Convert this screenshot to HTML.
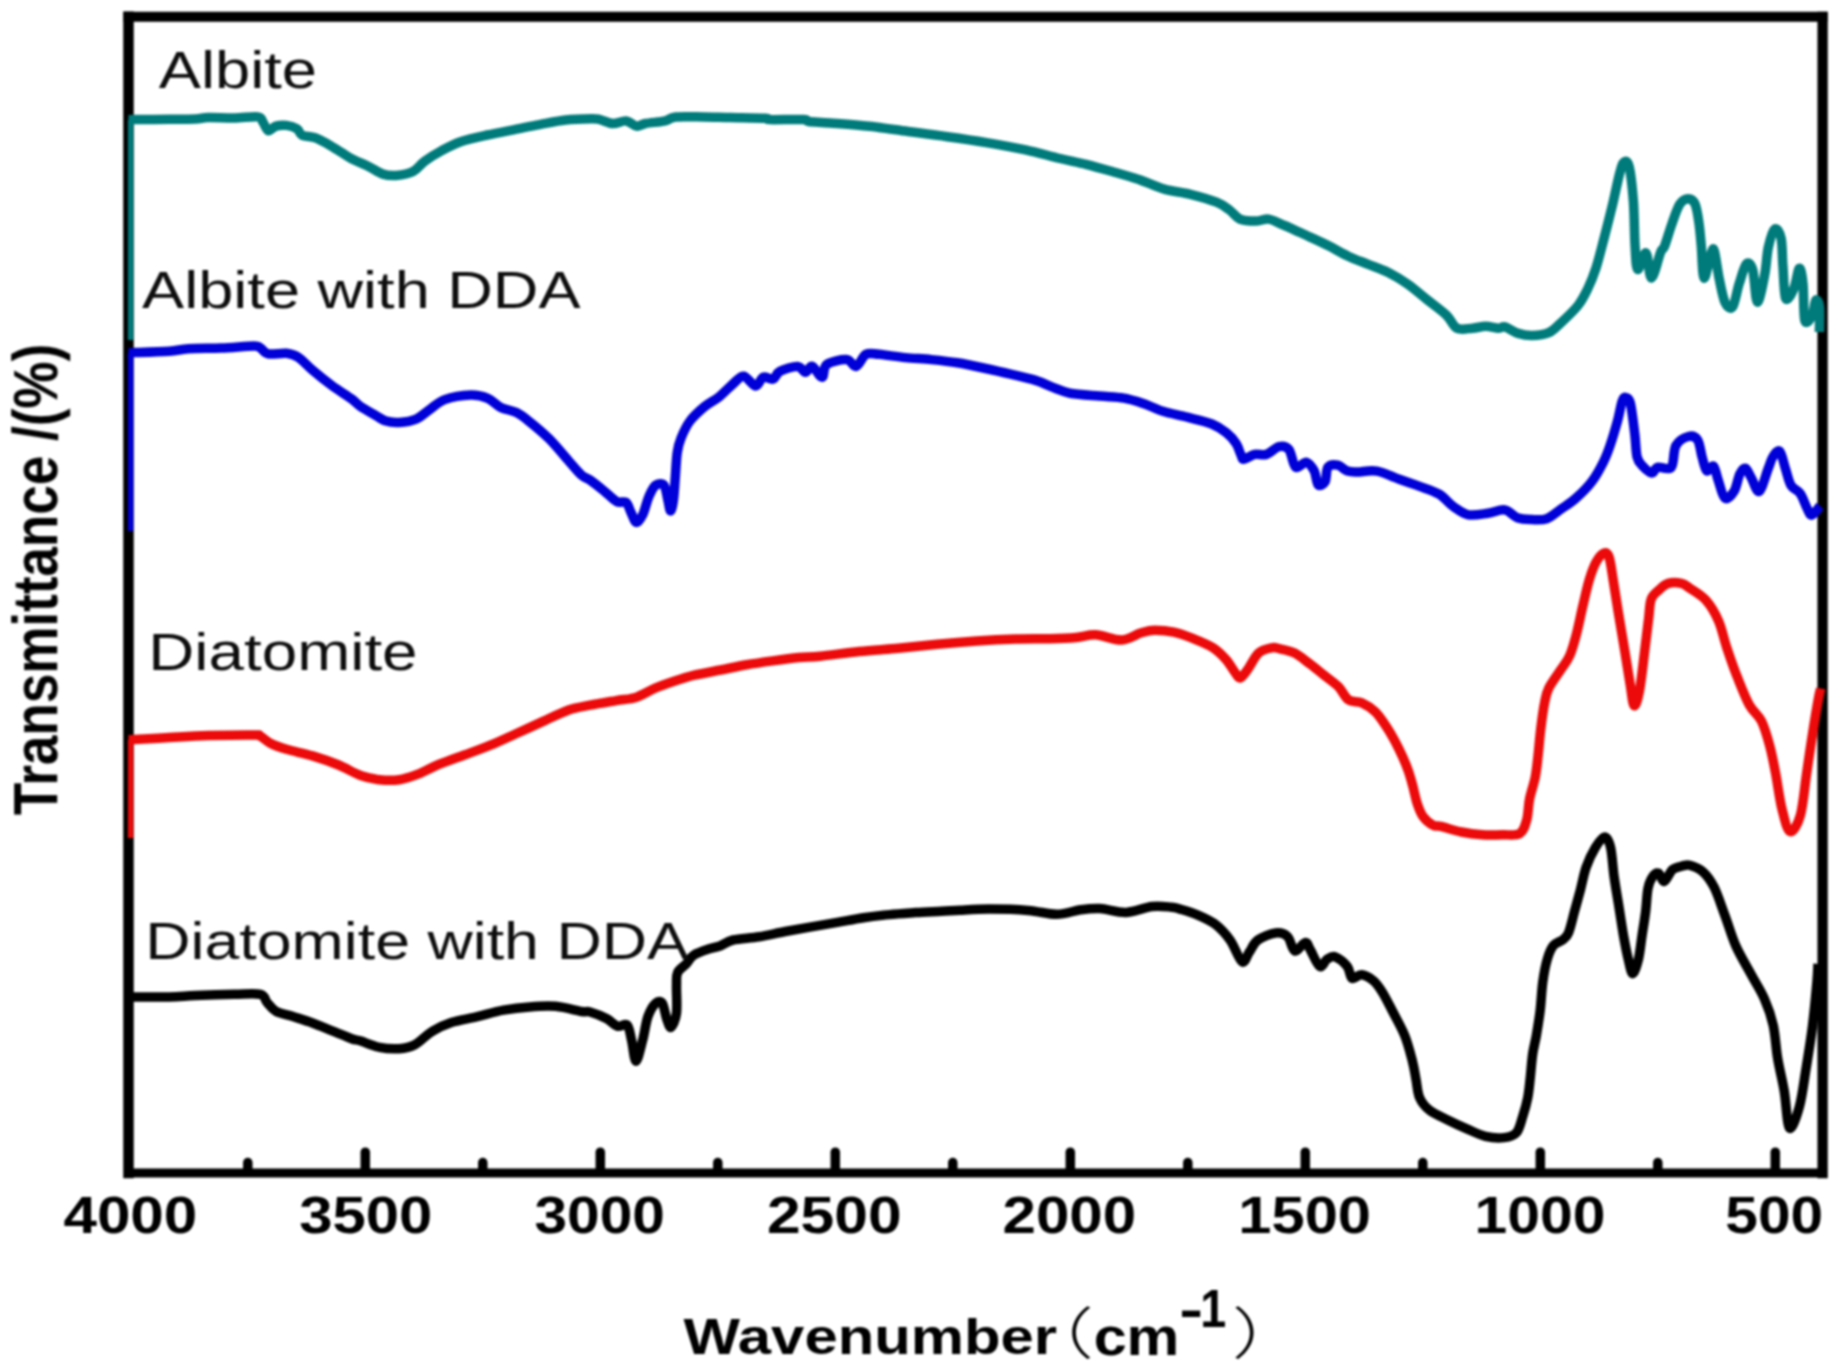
<!DOCTYPE html>
<html><head><meta charset="utf-8"><style>
html,body{margin:0;padding:0;background:#fff;}
body{width:1841px;height:1370px;overflow:hidden;}
svg{display:block;}
</style></head><body>
<svg width="1841" height="1370" viewBox="0 0 1841 1370">
<defs><filter id="soft" filterUnits="userSpaceOnUse" x="0" y="0" width="1841" height="1370" color-interpolation-filters="sRGB"><feGaussianBlur stdDeviation="1.0"/></filter></defs>
<rect width="1841" height="1370" fill="#fff"/>
<g filter="url(#soft)">
<g stroke="#000" fill="none" stroke-linecap="square">
<path d="M128.5,16.8H1822.6" stroke-width="10"/>
<path d="M128.5,16.8V1173" stroke-width="10.5"/>
<path d="M1822.6,16.8V1173" stroke-width="10.3"/>
<path d="M128.5,1173H1822.6" stroke-width="9"/>
</g>
<g stroke="#000" stroke-width="9.5" stroke-linecap="round">
<line x1="247.8" y1="1172" x2="247.8" y2="1162.5" /><line x1="365.3" y1="1172" x2="365.3" y2="1152.2" /><line x1="482.8" y1="1172" x2="482.8" y2="1162.5" /><line x1="600.3" y1="1172" x2="600.3" y2="1152.2" /><line x1="717.8" y1="1172" x2="717.8" y2="1162.5" /><line x1="835.3" y1="1172" x2="835.3" y2="1152.2" /><line x1="952.8" y1="1172" x2="952.8" y2="1162.5" /><line x1="1070.3" y1="1172" x2="1070.3" y2="1152.2" /><line x1="1187.8" y1="1172" x2="1187.8" y2="1162.5" /><line x1="1305.3" y1="1172" x2="1305.3" y2="1152.2" /><line x1="1422.8" y1="1172" x2="1422.8" y2="1162.5" /><line x1="1540.3" y1="1172" x2="1540.3" y2="1152.2" /><line x1="1657.8" y1="1172" x2="1657.8" y2="1162.5" /><line x1="1775.3" y1="1172" x2="1775.3" y2="1152.2" />
</g>
<g fill="none" stroke-width="9.5" stroke-linejoin="round" stroke-linecap="butt">
<path stroke="#007b7b" stroke-width="5.5" d="M130.6,340.0V119.7"/><path stroke="#007b7b" d="M128.5,119.7C129.4,119.7 127.1,119.7 133.9,119.6C140.7,119.5 158.9,119.4 169.1,119.3C179.3,119.2 188.7,119.2 195.2,118.9C201.7,118.6 201.7,117.8 208.2,117.6C214.7,117.4 226.0,118.1 234.3,118.0C242.6,117.9 253.0,116.2 257.8,116.9C262.6,117.6 261.3,119.9 263.0,122.2C264.7,124.5 266.0,129.9 268.2,130.6C270.4,131.2 272.9,127.0 276.0,126.1C279.1,125.2 283.0,125.0 286.5,125.4C290.0,125.8 294.3,127.1 296.9,128.7C299.5,130.3 299.1,133.7 302.1,135.2C305.1,136.7 310.8,136.3 315.1,137.8C319.5,139.3 323.9,141.9 328.2,144.3C332.5,146.7 337.3,149.8 341.2,152.2C345.1,154.6 346.8,156.2 351.6,158.7C356.4,161.2 364.8,164.6 370.0,167.2C375.2,169.8 378.6,172.7 383.0,174.1C387.4,175.5 391.1,175.8 396.1,175.4C401.1,175.0 408.2,173.9 413.0,171.5C417.8,169.1 420.0,164.6 424.8,161.1C429.6,157.6 435.6,153.9 441.7,150.6C447.8,147.3 453.7,144.1 461.3,141.5C468.9,138.9 478.6,136.9 487.3,135.0C496.0,133.1 504.7,131.5 513.4,129.8C522.1,128.1 530.8,126.2 539.5,124.6C548.2,123.0 556.9,121.0 565.6,120.0C574.3,119.0 585.9,118.8 591.6,118.7C597.3,118.6 596.4,118.8 600.0,119.6C603.6,120.4 608.7,123.3 613.0,123.5C617.3,123.7 622.1,120.5 626.0,120.9C629.9,121.3 633.2,125.7 636.5,126.1C639.8,126.5 640.8,124.4 645.6,123.5C650.4,122.6 660.2,122.0 665.2,120.9C670.2,119.8 669.1,117.7 675.6,117.0C682.1,116.3 695.2,116.9 704.3,117.0C713.4,117.1 720.2,117.4 730.4,117.6C740.6,117.8 759.1,118.0 765.6,118.3C772.1,118.6 763.2,119.4 769.5,119.6C775.8,119.8 796.9,119.3 803.4,119.6C809.9,119.9 804.2,120.9 808.6,121.5C813.0,122.1 819.9,122.2 830.0,123.0C840.1,123.8 856.1,124.9 869.1,126.3C882.1,127.7 895.2,129.8 908.2,131.5C921.2,133.2 934.2,134.8 947.3,136.7C960.3,138.5 973.5,140.4 986.5,142.6C999.5,144.8 1013.3,147.2 1025.6,149.8C1037.8,152.5 1049.9,156.1 1060.0,158.5C1070.1,160.9 1077.4,162.1 1086.1,164.3C1094.8,166.5 1103.5,169.0 1112.2,171.5C1120.9,174.0 1129.5,176.4 1138.2,179.3C1146.9,182.2 1155.6,186.6 1164.3,189.1C1173.0,191.6 1181.7,192.1 1190.4,194.3C1199.1,196.5 1210.0,199.6 1216.5,202.2C1223.0,204.8 1225.6,207.2 1229.5,210.0C1233.4,212.8 1235.6,217.2 1239.9,219.1C1244.2,220.9 1250.8,221.1 1255.6,221.1C1260.4,221.1 1264.3,218.6 1268.6,219.1C1272.9,219.6 1278.0,222.9 1281.6,224.3C1285.2,225.8 1285.3,225.7 1290.0,227.8C1294.7,229.9 1303.1,233.9 1309.6,236.9C1316.1,239.9 1322.6,242.8 1329.1,246.1C1335.6,249.4 1342.2,253.5 1348.7,256.5C1355.2,259.5 1361.7,261.7 1368.2,264.3C1374.7,266.9 1381.3,268.9 1387.8,272.2C1394.3,275.5 1400.8,279.3 1407.3,283.9C1413.8,288.4 1420.4,294.3 1426.9,299.5C1433.4,304.7 1441.5,310.4 1446.5,315.2C1451.5,320.0 1452.6,326.0 1456.9,328.2C1461.2,330.4 1467.7,328.5 1472.5,328.2C1477.3,327.9 1481.2,326.3 1485.6,326.3C1489.9,326.3 1495.3,328.1 1498.6,328.2C1501.8,328.3 1501.8,326.0 1505.1,326.9C1508.4,327.8 1513.7,332.0 1518.2,333.4C1522.7,334.8 1527.0,335.6 1532.1,335.5C1537.2,335.4 1544.2,334.7 1548.8,332.7C1553.4,330.7 1555.1,328.2 1559.9,323.7C1564.8,319.2 1573.3,311.4 1577.9,305.6C1582.5,299.8 1584.6,295.2 1587.6,289.0C1590.6,282.8 1593.1,276.8 1595.9,268.2C1598.7,259.6 1601.4,248.3 1604.2,237.7C1607.0,227.1 1610.0,215.0 1612.6,204.4C1615.1,193.8 1617.6,181.0 1619.5,173.9C1621.4,166.8 1622.4,163.2 1624.0,162.0C1625.6,160.8 1627.6,160.3 1629.2,166.9C1630.8,173.5 1632.4,188.6 1633.4,201.6C1634.4,214.6 1634.3,233.7 1635.0,245.0C1635.7,256.3 1635.9,268.0 1637.7,269.3C1639.5,270.6 1643.7,251.6 1646.0,253.0C1648.3,254.4 1649.0,278.2 1651.5,278.0C1654.0,277.8 1658.5,257.3 1660.7,252.0C1662.9,246.7 1662.6,251.1 1664.5,246.3C1666.4,241.5 1669.5,230.3 1672.1,223.3C1674.6,216.3 1677.1,208.3 1679.8,204.2C1682.5,200.1 1685.7,198.8 1688.2,198.8C1690.8,198.8 1693.3,200.1 1695.1,204.2C1696.9,208.3 1698.0,216.3 1699.0,223.3C1700.0,230.3 1700.5,237.2 1701.3,246.3C1702.1,255.4 1702.4,276.7 1704.0,278.0C1705.6,279.3 1709.3,258.5 1711.0,254.0C1712.7,249.5 1712.9,246.8 1714.3,251.0C1715.7,255.2 1717.5,270.7 1719.3,279.3C1721.1,287.9 1722.9,298.0 1725.1,302.6C1727.3,307.2 1730.4,309.8 1732.7,306.7C1735.0,303.6 1736.8,291.0 1739.1,283.9C1741.4,276.8 1744.1,266.1 1746.4,263.8C1748.7,261.5 1751.0,263.8 1752.8,270.2C1754.6,276.6 1755.4,301.4 1757.4,302.1C1759.4,302.9 1762.9,283.8 1764.7,274.7C1766.5,265.6 1766.6,255.0 1768.3,247.4C1770.0,239.8 1772.6,230.6 1774.7,229.1C1776.8,227.6 1779.7,232.1 1781.1,238.2C1782.5,244.3 1782.1,255.6 1782.9,265.6C1783.7,275.7 1783.9,294.7 1785.7,298.5C1787.5,302.3 1791.6,293.4 1793.9,288.4C1796.2,283.4 1797.8,269.1 1799.3,268.4C1800.8,267.6 1802.1,275.2 1803.0,283.9C1803.9,292.6 1803.3,315.1 1804.8,320.4C1806.3,325.7 1810.3,319.1 1812.1,315.8C1813.9,312.5 1814.6,301.8 1815.8,300.3C1817.0,298.8 1818.8,301.4 1819.4,306.7C1820.0,312.0 1819.4,327.8 1819.4,332.0"/>
<path stroke="#0000d8" stroke-width="5.5" d="M130.6,531.0V352.4"/><path stroke="#0000d8" d="M128.5,352.4C129.4,352.4 127.1,352.8 133.9,352.6C140.7,352.4 160.0,352.0 169.1,351.3C178.2,350.6 180.0,349.2 188.7,348.7C197.4,348.1 210.4,348.4 221.3,348.0C232.2,347.6 247.4,346.1 253.9,346.1C260.4,346.1 258.0,346.7 260.4,348.0C262.8,349.3 263.8,353.0 268.2,353.9C272.6,354.8 281.5,352.8 286.5,353.3C291.5,353.9 293.9,354.4 298.2,357.2C302.5,360.0 306.9,365.4 312.5,370.2C318.1,375.0 325.6,381.0 332.1,385.8C338.6,390.6 347.0,395.5 351.6,398.9C356.2,402.3 356.4,403.6 360.0,406.1C363.6,408.6 368.6,411.4 373.0,413.9C377.4,416.4 381.8,419.7 386.1,421.1C390.5,422.5 394.1,422.7 399.1,422.4C404.1,422.1 411.1,421.2 416.1,419.1C421.1,417.0 424.3,413.2 429.1,410.0C433.9,406.8 437.8,402.1 444.7,399.6C451.6,397.1 463.6,395.2 470.8,395.0C478.0,394.8 482.8,396.2 487.8,398.3C492.8,400.4 496.0,405.0 500.8,407.4C505.6,409.8 511.7,410.2 516.5,412.6C521.3,415.0 524.1,417.4 529.5,421.7C534.9,426.0 542.5,432.2 549.0,438.7C555.5,445.2 563.2,454.7 568.6,460.8C574.0,466.9 578.0,472.0 581.6,475.2C585.2,478.4 586.2,477.4 590.0,480.0C593.8,482.6 599.8,487.5 604.2,491.1C608.6,494.7 613.0,499.6 616.6,501.5C620.2,503.4 623.7,500.8 626.1,502.5C628.5,504.2 629.1,508.7 630.8,512.0C632.5,515.3 634.5,522.1 636.5,522.4C638.5,522.7 641.1,518.2 643.1,513.9C645.1,509.6 646.7,501.6 648.8,496.8C650.9,492.1 653.0,487.3 655.5,485.4C658.0,483.5 662.0,483.0 664.0,485.4C666.0,487.8 666.7,495.3 667.8,499.6C668.9,503.9 669.6,511.0 670.6,511.0C671.6,511.0 672.7,505.5 673.5,499.6C674.3,493.8 674.8,483.8 675.4,475.9C676.0,468.0 676.3,458.5 677.3,452.2C678.2,445.9 679.0,443.2 681.1,438.0C683.2,432.8 686.1,426.2 690.0,421.0C693.9,415.8 699.8,410.6 704.7,406.5C709.6,402.4 714.4,400.6 719.3,396.7C724.2,392.8 729.9,386.4 734.0,383.0C738.1,379.6 740.2,375.7 743.8,376.2C747.4,376.7 752.2,385.8 755.5,386.0C758.8,386.2 760.4,378.3 763.3,377.2C766.2,376.1 770.3,380.1 773.1,379.1C775.9,378.1 775.9,373.4 780.0,371.3C784.1,369.2 793.3,366.2 797.5,366.4C801.7,366.6 802.9,372.3 805.4,372.3C807.9,372.3 809.4,365.6 812.2,366.4C815.0,367.2 819.5,377.5 822.0,377.2C824.5,376.9 822.8,367.3 826.9,364.4C831.0,361.5 841.5,359.3 846.4,359.6C851.3,359.9 852.9,367.3 856.2,366.4C859.5,365.5 862.3,356.3 866.1,354.3C869.9,352.3 872.6,353.8 879.1,354.3C885.6,354.9 896.5,356.7 905.2,357.6C913.9,358.5 922.6,358.7 931.3,359.6C940.0,360.5 948.6,361.4 957.3,362.8C966.0,364.2 974.7,366.1 983.4,368.0C992.1,369.9 1000.8,371.8 1009.5,373.9C1018.2,376.0 1028.0,378.0 1035.6,380.4C1043.2,382.8 1049.4,386.1 1055.1,388.2C1060.8,390.3 1062.6,391.9 1070.0,393.2C1077.4,394.5 1090.3,395.3 1099.3,396.1C1108.3,396.9 1116.5,396.9 1123.8,398.1C1131.1,399.3 1136.8,401.3 1143.3,403.5C1149.8,405.7 1155.6,409.0 1162.9,411.3C1170.2,413.6 1179.2,415.1 1187.3,417.2C1195.4,419.3 1205.3,421.4 1211.8,424.0C1218.3,426.6 1222.3,429.5 1226.4,432.8C1230.5,436.1 1233.8,439.9 1236.2,443.6C1238.6,447.3 1239.7,452.4 1241.0,455.0C1242.3,457.6 1241.6,459.4 1243.9,459.3C1246.2,459.2 1251.0,455.2 1254.7,454.4C1258.5,453.6 1262.3,455.7 1266.4,454.4C1270.5,453.1 1275.3,447.4 1279.1,446.6C1282.8,445.8 1286.1,446.2 1288.9,449.6C1291.7,453.0 1292.8,465.1 1295.7,467.2C1298.6,469.3 1303.4,461.6 1306.5,462.3C1309.6,463.0 1312.3,467.4 1314.3,471.1C1316.2,474.9 1316.4,483.0 1318.2,484.8C1320.0,486.6 1323.5,484.7 1325.1,481.8C1326.7,478.9 1325.9,470.0 1328.0,467.2C1330.1,464.4 1334.5,464.5 1337.8,465.2C1341.0,465.9 1344.2,470.0 1347.5,471.1C1350.8,472.2 1352.4,472.0 1357.3,472.0C1362.2,472.0 1369.8,469.8 1376.9,471.1C1384.0,472.4 1392.9,477.1 1400.0,479.6C1407.1,482.2 1413.1,484.0 1419.6,486.4C1426.1,488.8 1433.4,490.8 1439.1,494.2C1444.8,497.6 1448.9,503.5 1453.8,506.9C1458.7,510.3 1462.7,513.7 1468.4,514.8C1474.1,515.9 1482.0,514.1 1488.0,513.3C1494.0,512.5 1499.7,509.2 1504.6,509.9C1509.5,510.6 1512.7,516.1 1517.3,517.7C1521.9,519.3 1527.1,519.4 1532.0,519.6C1536.9,519.8 1541.8,520.5 1546.7,518.7C1551.6,516.9 1556.4,512.3 1561.3,508.9C1566.2,505.5 1570.9,502.7 1576.0,498.1C1581.1,493.6 1587.2,487.7 1591.8,481.6C1596.4,475.6 1600.4,468.0 1603.5,461.8C1606.6,455.6 1608.2,451.0 1610.5,444.2C1612.8,437.4 1615.5,428.1 1617.5,420.9C1619.5,413.7 1620.8,404.9 1622.2,401.0C1623.6,397.1 1624.3,397.1 1625.7,397.5C1627.1,397.9 1628.9,397.3 1630.4,403.4C1631.9,409.5 1633.7,425.3 1634.8,434.2C1635.9,443.1 1635.8,451.7 1637.1,457.0C1638.4,462.3 1640.3,463.5 1642.8,466.2C1645.3,468.9 1649.4,472.8 1651.9,473.0C1654.4,473.2 1654.4,468.2 1657.6,467.3C1660.8,466.4 1668.2,470.9 1671.3,467.3C1674.3,463.7 1673.1,450.7 1675.9,445.6C1678.8,440.5 1684.8,437.4 1688.4,436.5C1692.0,435.6 1695.3,436.5 1697.6,439.9C1699.9,443.3 1700.6,451.9 1702.1,457.0C1703.6,462.1 1704.8,469.2 1706.7,470.7C1708.6,472.2 1711.6,464.7 1713.5,466.2C1715.4,467.7 1716.2,474.5 1718.1,479.8C1720.0,485.1 1722.2,496.2 1724.9,498.1C1727.6,500.0 1731.6,495.3 1734.1,491.3C1736.6,487.3 1737.9,477.9 1739.8,474.1C1741.7,470.3 1743.6,467.8 1745.5,468.4C1747.4,469.0 1748.9,473.8 1751.2,477.6C1753.5,481.4 1756.4,492.8 1759.2,491.3C1762.0,489.8 1766.0,474.1 1768.3,468.4C1770.6,462.7 1770.9,459.9 1772.8,457.0C1774.7,454.1 1777.6,449.4 1779.7,451.3C1781.8,453.2 1783.5,462.7 1785.4,468.4C1787.3,474.1 1788.6,481.3 1791.1,485.5C1793.6,489.7 1797.5,489.7 1800.2,493.5C1802.9,497.3 1805.2,504.8 1807.1,508.4C1809.0,512.0 1809.4,515.6 1811.6,515.2C1813.8,514.8 1818.6,507.5 1820.0,506.0"/>
<path stroke="#ec0a0a" stroke-width="5.5" d="M130.6,838.0V739.6"/><path stroke="#ec0a0a" d="M128.5,739.6C129.4,739.6 127.1,739.9 133.9,739.6C140.7,739.3 156.7,738.3 169.1,737.6C181.5,736.9 194.1,736.0 208.2,735.6C222.3,735.2 245.2,734.9 253.9,735.0C262.6,735.1 257.6,734.9 260.4,736.3C263.2,737.7 266.4,741.3 270.8,743.5C275.2,745.7 279.6,747.2 286.5,749.3C293.4,751.4 303.8,753.3 312.5,755.9C321.2,758.5 330.7,761.8 338.6,765.0C346.5,768.2 353.2,772.8 360.0,775.2C366.8,777.7 373.1,779.0 379.6,779.7C386.1,780.5 392.6,780.7 399.1,779.7C405.6,778.7 412.2,776.4 418.7,773.9C425.2,771.4 430.6,767.9 438.2,764.7C445.8,761.6 455.6,758.2 464.3,755.0C473.0,751.8 481.7,748.8 490.4,745.2C499.1,741.6 507.8,737.4 516.5,733.5C525.2,729.6 533.8,725.6 542.5,721.7C551.2,717.8 560.7,712.8 568.6,710.0C576.5,707.2 582.1,706.8 590.0,705.2C597.9,703.6 608.5,701.9 616.1,700.6C623.7,699.3 629.1,699.5 635.6,697.4C642.1,695.3 648.7,690.9 655.2,688.2C661.7,685.5 668.2,683.3 674.7,681.1C681.2,678.9 686.7,677.1 694.3,675.2C701.9,673.4 711.7,671.7 720.4,670.0C729.1,668.3 737.8,666.3 746.5,664.8C755.2,663.3 763.8,662.1 772.5,660.9C781.2,659.7 790.7,658.4 798.6,657.6C806.5,656.8 809.9,657.2 820.0,656.2C830.1,655.2 846.1,652.8 859.1,651.5C872.1,650.2 885.2,649.4 898.2,648.2C911.2,647.0 924.2,645.5 937.3,644.3C950.3,643.1 963.5,642.0 976.5,641.1C989.5,640.2 1003.4,639.5 1015.6,639.1C1027.8,638.7 1039.9,639.0 1050.0,638.7C1060.1,638.4 1068.5,638.0 1076.1,637.4C1083.7,636.8 1088.0,634.4 1095.6,634.8C1103.2,635.2 1114.1,640.3 1121.7,640.0C1129.3,639.7 1135.9,634.4 1141.3,632.8C1146.7,631.2 1148.9,630.3 1154.3,630.2C1159.7,630.1 1167.4,630.8 1173.9,632.2C1180.4,633.6 1186.9,636.1 1193.4,638.7C1199.9,641.3 1207.6,644.3 1213.0,647.8C1218.4,651.3 1222.3,655.4 1226.0,659.5C1229.7,663.6 1232.7,669.6 1235.1,672.6C1237.5,675.6 1238.2,678.4 1240.4,677.8C1242.6,677.1 1245.2,672.8 1248.2,668.7C1251.2,664.6 1254.7,656.5 1258.6,653.0C1262.5,649.5 1268.0,648.5 1271.6,647.8C1275.2,647.1 1276.2,647.9 1280.0,648.8C1283.8,649.7 1289.7,650.7 1294.6,653.1C1299.5,655.5 1304.3,659.8 1309.2,663.4C1314.1,667.0 1318.9,671.1 1323.8,675.0C1328.7,678.9 1334.3,682.6 1338.4,686.7C1342.5,690.9 1344.7,697.2 1348.6,699.9C1352.5,702.6 1357.4,700.9 1361.8,702.8C1366.2,704.7 1371.0,707.9 1374.9,711.5C1378.8,715.1 1381.9,720.1 1385.1,724.7C1388.3,729.3 1391.0,733.9 1393.9,739.3C1396.8,744.6 1400.2,751.4 1402.6,756.8C1405.0,762.1 1406.8,766.5 1408.5,771.4C1410.2,776.3 1411.3,780.6 1412.8,786.0C1414.2,791.4 1415.5,798.4 1417.2,803.5C1418.9,808.6 1420.4,813.0 1423.1,816.6C1425.8,820.2 1430.3,823.8 1433.3,825.4C1436.2,827.0 1436.1,825.3 1440.8,826.4C1445.5,827.5 1454.7,830.6 1461.6,832.0C1468.5,833.4 1475.5,834.3 1482.4,834.8C1489.3,835.3 1497.0,835.0 1503.2,834.8C1509.5,834.6 1516.0,835.9 1519.9,833.4C1523.8,830.9 1525.2,825.3 1526.8,819.5C1528.4,813.7 1528.2,805.6 1529.6,798.7C1531.0,791.8 1533.7,784.8 1535.1,777.9C1536.5,771.0 1537.0,765.2 1537.9,757.1C1538.8,749.0 1539.6,738.5 1540.7,729.3C1541.8,720.0 1543.4,708.5 1544.8,701.6C1546.2,694.7 1546.4,693.0 1549.0,687.7C1551.6,682.5 1557.0,675.5 1560.5,670.1C1564.0,664.8 1567.1,661.5 1569.7,655.6C1572.3,649.7 1574.1,642.9 1576.3,634.6C1578.5,626.3 1580.7,614.9 1582.9,605.7C1585.1,596.5 1587.2,586.6 1589.4,579.4C1591.6,572.2 1593.6,566.7 1596.0,562.3C1598.4,557.9 1601.7,554.0 1603.9,553.1C1606.1,552.2 1607.6,552.7 1609.1,557.1C1610.6,561.5 1611.6,570.2 1613.1,579.4C1614.6,588.6 1616.3,600.2 1618.3,612.3C1620.3,624.3 1622.9,639.7 1624.9,651.7C1626.9,663.7 1628.7,675.5 1630.2,684.5C1631.7,693.5 1632.6,704.5 1634.1,705.6C1635.6,706.7 1637.7,700.1 1639.4,691.1C1641.2,682.1 1643.1,663.8 1644.6,651.7C1646.1,639.7 1647.5,627.6 1648.6,618.8C1649.7,610.0 1649.5,603.9 1651.2,599.1C1653.0,594.3 1656.2,592.5 1659.1,589.9C1661.9,587.3 1664.6,584.5 1668.3,583.4C1672.0,582.3 1677.8,582.6 1681.4,583.4C1685.0,584.2 1685.8,585.5 1690.0,588.4C1694.2,591.3 1701.5,595.2 1706.3,600.7C1711.1,606.2 1715.2,613.3 1718.6,621.1C1722.0,628.9 1723.7,638.5 1726.8,647.7C1729.9,656.9 1733.2,666.8 1737.0,676.3C1740.8,685.8 1745.2,697.4 1749.3,704.9C1753.4,712.4 1758.1,714.4 1761.5,721.2C1764.9,728.0 1767.3,736.9 1769.7,745.8C1772.1,754.7 1773.8,763.8 1775.8,774.4C1777.8,785.0 1779.6,799.6 1782.0,809.1C1784.4,818.6 1787.0,830.6 1790.1,831.6C1793.2,832.6 1797.7,824.7 1800.4,815.2C1803.1,805.7 1804.5,788.0 1806.5,774.4C1808.5,760.8 1810.5,746.5 1812.6,733.5C1814.6,720.5 1817.4,704.2 1818.8,696.7C1820.2,689.2 1820.5,689.9 1820.8,688.5"/>
<path stroke="#000" d="M130.5,997.0C131.1,997.0 127.5,997.0 133.9,997.0C140.3,997.0 158.9,997.2 169.1,997.0C179.3,996.8 184.3,996.1 195.2,995.6C206.1,995.1 223.4,994.5 234.3,994.3C245.2,994.1 255.0,993.0 260.4,994.3C265.8,995.6 264.3,999.4 266.9,1002.2C269.5,1005.0 271.6,1008.9 276.0,1011.3C280.4,1013.7 286.9,1014.5 293.0,1016.5C299.1,1018.5 306.0,1020.6 312.5,1023.0C319.0,1025.4 325.6,1028.2 332.1,1030.8C338.6,1033.4 347.0,1037.0 351.6,1038.7C356.2,1040.4 355.3,1039.3 360.0,1040.8C364.7,1042.2 373.1,1046.1 379.6,1047.4C386.1,1048.7 393.2,1049.1 399.1,1048.7C405.0,1048.3 409.4,1047.6 414.8,1044.8C420.2,1042.0 425.6,1035.4 431.7,1031.7C437.8,1028.0 443.7,1025.1 451.3,1022.6C458.9,1020.1 468.6,1018.8 477.3,1016.7C486.0,1014.6 494.7,1011.8 503.4,1010.2C512.1,1008.6 520.8,1007.5 529.5,1006.9C538.2,1006.2 546.9,1005.5 555.6,1006.3C564.3,1007.1 575.9,1010.5 581.6,1011.5C587.3,1012.5 585.9,1010.8 590.0,1012.0C594.1,1013.2 601.8,1016.1 606.4,1018.5C611.0,1020.9 613.9,1025.1 617.4,1026.2C620.9,1027.3 624.8,1022.7 627.2,1025.1C629.6,1027.5 630.1,1034.4 631.6,1040.4C633.1,1046.4 634.2,1061.2 636.0,1061.2C637.8,1061.2 640.6,1047.9 642.6,1040.4C644.6,1032.9 645.8,1022.6 648.0,1016.4C650.2,1010.2 653.3,1005.4 655.7,1003.2C658.1,1001.0 660.5,1000.7 662.3,1003.2C664.1,1005.8 665.1,1014.5 666.6,1018.5C668.1,1022.5 669.4,1028.2 671.0,1027.3C672.6,1026.4 675.6,1020.0 676.5,1013.1C677.4,1006.2 676.3,992.5 676.5,985.7C676.7,979.0 676.0,976.2 677.6,972.6C679.2,969.0 683.7,966.7 686.4,963.8C689.1,960.9 690.0,957.5 694.0,955.0C698.0,952.5 706.1,950.0 710.4,948.5C714.7,947.0 716.2,947.4 720.0,946.0C723.8,944.6 726.5,941.5 733.0,940.0C739.5,938.5 750.4,938.1 759.1,936.7C767.8,935.3 776.5,933.1 785.2,931.5C793.9,929.9 802.6,928.4 811.3,926.9C820.0,925.4 828.6,923.9 837.3,922.4C846.0,920.9 854.7,919.1 863.4,917.8C872.1,916.5 880.8,915.5 889.5,914.6C898.2,913.7 906.9,913.2 915.6,912.6C924.3,912.0 934.2,911.7 941.6,911.3C949.0,910.9 952.1,910.6 960.0,910.2C967.9,909.8 977.7,909.1 989.1,909.1C1000.5,909.1 1016.9,909.5 1028.2,910.4C1039.5,911.3 1048.2,914.4 1056.9,914.3C1065.6,914.2 1073.2,910.8 1080.4,909.8C1087.6,908.8 1092.3,908.1 1099.9,908.5C1107.5,908.9 1117.3,912.7 1126.0,912.4C1134.7,912.1 1144.5,907.4 1152.1,906.5C1159.7,905.6 1166.9,906.8 1171.6,907.2C1176.2,907.6 1175.6,907.8 1180.0,909.1C1184.4,910.4 1191.9,912.5 1197.9,915.1C1203.9,917.7 1210.5,920.5 1215.9,924.7C1221.3,928.9 1225.8,934.0 1230.2,940.2C1234.6,946.4 1238.9,959.7 1242.1,961.7C1245.3,963.7 1246.7,955.7 1249.3,952.1C1251.9,948.5 1253.3,943.4 1257.7,940.2C1262.1,937.0 1270.6,933.6 1275.6,933.0C1280.6,932.4 1284.4,933.6 1287.6,936.6C1290.8,939.6 1291.7,949.9 1294.7,950.9C1297.7,951.9 1302.9,942.8 1305.5,942.6C1308.1,942.4 1307.9,945.8 1310.3,949.8C1312.7,953.8 1317.0,964.9 1319.8,966.5C1322.6,968.1 1324.4,960.9 1327.0,959.3C1329.6,957.7 1332.0,955.7 1335.4,956.9C1338.8,958.1 1344.5,962.9 1347.3,966.5C1350.1,970.1 1349.7,977.0 1352.1,978.4C1354.5,979.8 1358.0,974.4 1361.6,974.8C1365.2,975.2 1370.1,977.9 1373.6,980.8C1377.1,983.7 1379.4,987.4 1382.5,992.4C1385.6,997.4 1388.7,1003.8 1392.4,1011.0C1396.1,1018.2 1401.5,1027.5 1404.8,1035.8C1408.1,1044.1 1410.4,1053.5 1412.3,1060.7C1414.2,1068.0 1414.8,1073.1 1416.0,1079.3C1417.2,1085.5 1417.4,1092.7 1419.7,1097.9C1422.0,1103.1 1424.8,1106.6 1429.6,1110.3C1434.3,1114.0 1442.0,1117.1 1448.2,1120.2C1454.4,1123.3 1460.7,1126.2 1466.9,1128.9C1473.1,1131.6 1479.3,1134.8 1485.5,1136.3C1491.7,1137.8 1498.9,1138.2 1504.1,1137.6C1509.3,1137.0 1513.4,1136.1 1516.5,1132.6C1519.6,1129.1 1520.8,1122.3 1522.7,1116.5C1524.6,1110.7 1526.5,1104.1 1527.7,1097.9C1528.9,1091.7 1529.3,1086.5 1530.1,1079.3C1530.9,1072.1 1531.6,1061.8 1532.6,1054.5C1533.6,1047.2 1535.0,1043.0 1536.3,1035.8C1537.5,1028.5 1539.0,1020.0 1540.1,1011.0C1541.2,1002.0 1541.6,990.5 1542.8,981.8C1544.0,973.0 1545.7,964.5 1547.5,958.5C1549.3,952.5 1550.9,948.7 1553.4,945.6C1555.9,942.5 1560.2,941.9 1562.7,939.8C1565.2,937.7 1566.5,937.5 1568.5,932.8C1570.5,928.1 1572.5,918.8 1574.4,911.8C1576.4,904.8 1578.2,898.1 1580.2,890.7C1582.2,883.3 1583.6,874.6 1586.1,867.4C1588.6,860.2 1592.3,852.6 1595.4,847.5C1598.5,842.4 1602.2,837.0 1604.7,837.0C1607.2,837.0 1609.0,840.9 1610.6,847.5C1612.2,854.1 1612.7,867.0 1614.1,876.7C1615.5,886.4 1617.2,896.2 1618.8,905.9C1620.3,915.6 1621.9,926.3 1623.4,935.1C1625.0,943.9 1626.5,952.1 1628.1,958.5C1629.7,964.9 1631.0,973.7 1632.8,973.7C1634.5,973.7 1637.0,964.9 1638.6,958.5C1640.1,952.1 1640.9,942.9 1642.1,935.1C1643.3,927.3 1644.6,919.6 1645.6,911.8C1646.6,904.0 1646.8,894.2 1648.0,888.4C1649.2,882.5 1650.8,879.2 1652.6,876.7C1654.3,874.2 1656.5,872.4 1658.5,873.2C1660.5,874.0 1662.0,882.0 1664.3,881.4C1666.6,880.8 1669.6,872.2 1672.5,869.7C1675.4,867.2 1678.9,866.9 1681.8,866.2C1684.7,865.5 1686.5,864.3 1690.0,865.3C1693.5,866.2 1699.1,868.2 1703.1,871.9C1707.1,875.5 1710.4,879.9 1714.1,887.2C1717.8,894.5 1721.3,905.9 1725.0,915.7C1728.7,925.6 1731.6,936.4 1736.0,946.3C1740.4,956.1 1746.6,966.0 1751.3,974.8C1756.0,983.6 1760.8,990.5 1764.4,998.9C1768.1,1007.3 1771.0,1015.4 1773.2,1025.2C1775.4,1035.0 1775.8,1047.0 1777.6,1058.0C1779.4,1069.0 1782.2,1079.2 1784.2,1090.9C1786.2,1102.6 1787.0,1125.5 1789.6,1128.1C1792.1,1130.6 1796.8,1116.0 1799.5,1106.2C1802.2,1096.4 1803.8,1082.5 1806.0,1069.0C1808.2,1055.5 1810.8,1039.8 1812.6,1025.2C1814.4,1010.6 1816.1,991.6 1817.0,981.4C1817.9,971.2 1817.8,966.8 1818.0,963.9"/>
</g>
<text transform="translate(63.40,1233.00) scale(1.1551,1)" font-family="'Liberation Sans', Arial, sans-serif" font-weight="bold" font-size="52.14" fill="#000">4000</text><text transform="translate(299.20,1233.00) scale(1.1480,1)" font-family="'Liberation Sans', Arial, sans-serif" font-weight="bold" font-size="52.14" fill="#000">3500</text><text transform="translate(534.43,1233.00) scale(1.1249,1)" font-family="'Liberation Sans', Arial, sans-serif" font-weight="bold" font-size="52.14" fill="#000">3000</text><text transform="translate(766.88,1233.00) scale(1.1614,1)" font-family="'Liberation Sans', Arial, sans-serif" font-weight="bold" font-size="52.14" fill="#000">2500</text><text transform="translate(1002.50,1233.00) scale(1.1525,1)" font-family="'Liberation Sans', Arial, sans-serif" font-weight="bold" font-size="52.14" fill="#000">2000</text><text transform="translate(1238.32,1233.00) scale(1.1444,1)" font-family="'Liberation Sans', Arial, sans-serif" font-weight="bold" font-size="52.14" fill="#000">1500</text><text transform="translate(1474.47,1233.00) scale(1.1299,1)" font-family="'Liberation Sans', Arial, sans-serif" font-weight="bold" font-size="52.14" fill="#000">1000</text><text transform="translate(1725.35,1233.00) scale(1.1252,1)" font-family="'Liberation Sans', Arial, sans-serif" font-weight="bold" font-size="52.14" fill="#000">500</text>
<text transform="translate(158.80,88.00) scale(1.2137,1)" font-family="'Liberation Sans', Arial, sans-serif" font-weight="normal" font-size="52.08" fill="#0d0d0d">Albite</text><text transform="translate(142.10,307.80) scale(1.2120,1)" font-family="'Liberation Sans', Arial, sans-serif" font-weight="normal" font-size="52.08" fill="#0d0d0d">Albite with DDA</text><text transform="translate(148.30,670.40) scale(1.2213,1)" font-family="'Liberation Sans', Arial, sans-serif" font-weight="normal" font-size="52.22" fill="#0d0d0d">Diatomite</text><text transform="translate(145.18,958.60) scale(1.1946,1)" font-family="'Liberation Sans', Arial, sans-serif" font-weight="normal" font-size="52.50" fill="#0d0d0d">Diatomite with DDA</text><text transform="translate(57.20,815.16) rotate(-90) scale(0.8541,1)" font-family="'Liberation Sans', Arial, sans-serif" font-weight="bold" font-size="62.08">Transmittance /(%)</text><text transform="translate(683.60,1354.20) scale(1.2171,1)" font-family="'Liberation Sans', Arial, sans-serif" font-weight="bold" font-size="49.17" fill="#000">Wavenumber</text><text transform="translate(1018.05,1354.41) scale(1.3591,1)" font-family="'Noto Sans CJK SC', 'Noto Sans CJK JP', sans-serif" font-weight="300" font-size="55.85" fill="#000">（</text><text transform="translate(1093.63,1355.30) scale(1.1163,1)" font-family="'Liberation Sans', Arial, sans-serif" font-weight="bold" font-size="53.15" fill="#000">cm</text><text transform="translate(1179.14,1327.83) scale(1.3207,1)" font-family="'Liberation Sans', Arial, sans-serif" font-weight="bold" font-size="54.17" fill="#000">-</text><text transform="translate(1200.20,1327.00) scale(0.8725,1)" font-family="'Liberation Sans', Arial, sans-serif" font-weight="bold" font-size="53.57" fill="#000">1</text><text transform="translate(1231.82,1354.41) scale(1.3673,1)" font-family="'Noto Sans CJK SC', 'Noto Sans CJK JP', sans-serif" font-weight="300" font-size="55.85" fill="#000">）</text>
</g>
</svg>
</body></html>
